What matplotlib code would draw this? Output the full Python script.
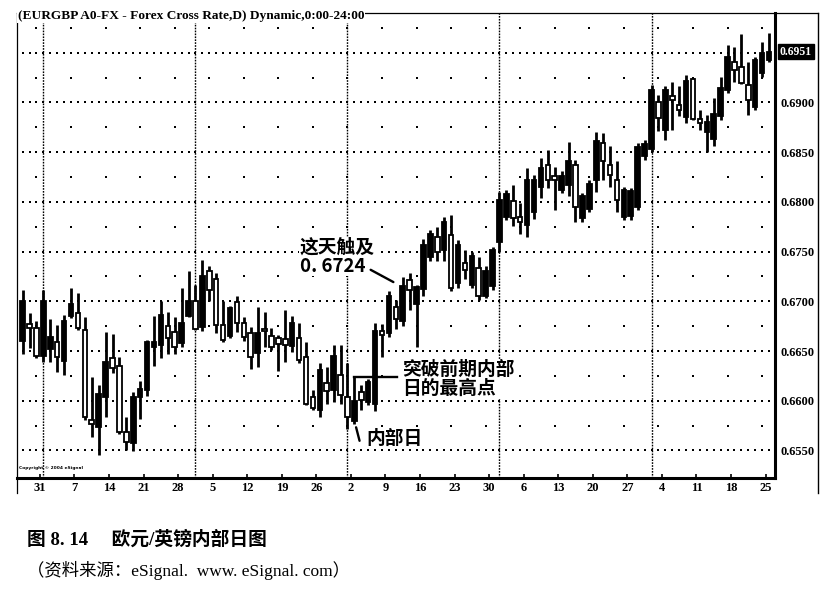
import numpy as np
import pandas as pd
import matplotlib
matplotlib.use("Agg")
import matplotlib.pyplot as plt
from matplotlib.lines import Line2D

# ---------------- data ----------------
dates = pd.bdate_range("2004-05-26", "2004-10-25")

opens = [0.6660, 0.6677, 0.6673, 0.6645, 0.6652, 0.6659, 0.6640, 0.6685, 0.6688, 0.6671,
         0.6581, 0.6574, 0.6604, 0.6643, 0.6635, 0.6569, 0.6557, 0.6604, 0.6611, 0.6654,
         0.6656, 0.6675, 0.6669, 0.6658, 0.6685, 0.6700, 0.6674, 0.6730, 0.6722, 0.6676,
         0.6665, 0.6699, 0.6678, 0.6668, 0.6648, 0.6672, 0.6665, 0.6663, 0.6662, 0.6655,
         0.6663, 0.6644, 0.6604, 0.6591, 0.6618, 0.6611, 0.6626, 0.6604, 0.6580, 0.6609,
         0.6599, 0.6597, 0.6670, 0.6668, 0.6694, 0.6680, 0.6721, 0.6697, 0.6712, 0.6745,
         0.6765, 0.6752, 0.6767, 0.6718, 0.6738, 0.6716, 0.6733, 0.6705, 0.6715, 0.6760,
         0.6785, 0.6801, 0.6785, 0.6777, 0.6790, 0.6815, 0.6837, 0.6826, 0.6812, 0.6817,
         0.6837, 0.6784, 0.6793, 0.6822, 0.6859, 0.6837, 0.6822, 0.6785, 0.6786, 0.6795,
         0.6846, 0.6853, 0.6900, 0.6872, 0.6906, 0.6897, 0.6885, 0.6924, 0.6883, 0.6870,
         0.6863, 0.6886, 0.6912, 0.6941, 0.6936, 0.6917, 0.6895, 0.6930, 0.6943]
highs = [0.6711, 0.6688, 0.6680, 0.6711, 0.6682, 0.6676, 0.6686, 0.6713, 0.6708, 0.6684,
         0.6624, 0.6616, 0.6669, 0.6667, 0.6644, 0.6584, 0.6609, 0.6620, 0.6661, 0.6685,
         0.6700, 0.6689, 0.6684, 0.6713, 0.6730, 0.6716, 0.6742, 0.6735, 0.6728, 0.6700,
         0.6695, 0.6705, 0.6684, 0.6674, 0.6694, 0.6689, 0.6673, 0.6666, 0.6691, 0.6685,
         0.6678, 0.6659, 0.6611, 0.6638, 0.6634, 0.6656, 0.6656, 0.6638, 0.6624, 0.6616,
         0.6622, 0.6678, 0.6677, 0.6710, 0.6701, 0.6724, 0.6728, 0.6716, 0.6763, 0.6772,
         0.6775, 0.6785, 0.6787, 0.6762, 0.6752, 0.6750, 0.6745, 0.6735, 0.6755, 0.6810,
         0.6812, 0.6817, 0.6799, 0.6834, 0.6827, 0.6844, 0.6852, 0.6835, 0.6831, 0.6860,
         0.6842, 0.6809, 0.6822, 0.6870, 0.6869, 0.6856, 0.6841, 0.6815, 0.6814, 0.6859,
         0.6862, 0.6917, 0.6907, 0.6916, 0.6921, 0.6916, 0.6928, 0.6925, 0.6892, 0.6887,
         0.6904, 0.6926, 0.6958, 0.6956, 0.6969, 0.6941, 0.6946, 0.6961, 0.6970]
lows = [0.6647, 0.6653, 0.6643, 0.6639, 0.6639, 0.6629, 0.6626, 0.6683, 0.6671, 0.6581,
        0.6564, 0.6545, 0.6584, 0.6628, 0.6567, 0.6550, 0.6549, 0.6582, 0.6605, 0.6635,
        0.6643, 0.6647, 0.6647, 0.6654, 0.6684, 0.6671, 0.6670, 0.6700, 0.6668, 0.6659,
        0.6663, 0.6669, 0.6660, 0.6632, 0.6634, 0.6654, 0.6651, 0.6630, 0.6639, 0.6649,
        0.6638, 0.6596, 0.6591, 0.6584, 0.6597, 0.6599, 0.6597, 0.6572, 0.6577, 0.6591,
        0.6596, 0.6590, 0.6644, 0.6664, 0.6672, 0.6675, 0.6691, 0.6654, 0.6705, 0.6741,
        0.6741, 0.6741, 0.6710, 0.6713, 0.6722, 0.6713, 0.6701, 0.6703, 0.6711, 0.6750,
        0.6782, 0.6776, 0.6768, 0.6765, 0.6783, 0.6804, 0.6814, 0.6792, 0.6809, 0.6806,
        0.6780, 0.6780, 0.6790, 0.6810, 0.6822, 0.6815, 0.6790, 0.6782, 0.6782, 0.6792,
        0.6842, 0.6850, 0.6871, 0.6862, 0.6872, 0.6886, 0.6879, 0.6882, 0.6872, 0.6850,
        0.6856, 0.6882, 0.6909, 0.6921, 0.6919, 0.6887, 0.6892, 0.6926, 0.6941]
closes = [0.6700, 0.6673, 0.6645, 0.6700, 0.6664, 0.6644, 0.6680, 0.6697, 0.6673, 0.6584,
          0.6577, 0.6607, 0.6639, 0.6633, 0.6569, 0.6559, 0.6604, 0.6612, 0.6659, 0.6659,
          0.6686, 0.6663, 0.6654, 0.6678, 0.6700, 0.6672, 0.6725, 0.6711, 0.6676, 0.6661,
          0.6693, 0.6678, 0.6664, 0.6644, 0.6668, 0.6670, 0.6654, 0.6657, 0.6656, 0.6678,
          0.6641, 0.6597, 0.6593, 0.6631, 0.6610, 0.6645, 0.6606, 0.6584, 0.6600, 0.6601,
          0.6619, 0.6670, 0.6666, 0.6705, 0.6682, 0.6715, 0.6711, 0.6714, 0.6757, 0.6768,
          0.6750, 0.6780, 0.6713, 0.6757, 0.6731, 0.6746, 0.6705, 0.6730, 0.6752, 0.6802,
          0.6808, 0.6784, 0.6780, 0.6822, 0.6822, 0.6834, 0.6822, 0.6822, 0.6826, 0.6841,
          0.6795, 0.6806, 0.6818, 0.6861, 0.6841, 0.6827, 0.6802, 0.6812, 0.6811, 0.6855,
          0.6858, 0.6912, 0.6884, 0.6912, 0.6902, 0.6892, 0.6922, 0.6883, 0.6879, 0.6880,
          0.6888, 0.6914, 0.6946, 0.6933, 0.6920, 0.6902, 0.6943, 0.6950, 0.6951]

price_ticks = [0.6550, 0.6600, 0.6650, 0.6700, 0.6750, 0.6800, 0.6850, 0.6900]
grid_levels = [0.6550, 0.6600, 0.6650, 0.6700, 0.6750, 0.6800, 0.6850, 0.6900, 0.6950]
half_levels = [0.6575, 0.6625, 0.6675, 0.6725, 0.6775, 0.6825, 0.6875, 0.6925, 0.6975]
day_labels = ["31", "7", "14", "21", "28", "5", "12", "19", "26", "2", "9", "16",
              "23", "30", "6", "13", "20", "27", "4", "11", "18", "25"]

header = "(EURGBP A0-FX - Forex Cross Rate,D) Dynamic,0:00-24:00"
note_touch = "这天触及\n0. 6724"
note_break = "突破前期内部\n日的最高点"
note_inside = "内部日"
caption1 = "图 8. 14　 欧元/英镑内部日图"
caption2 = "（资料来源：eSignal.  www. eSignal. com）"

inside_day = 48
touch_day = 55

# ---------------- figure ----------------
W, H = 836, 602
fig = plt.figure(figsize=(W / 100, H / 100), dpi=100)
fig.patch.set_facecolor("white")
L_px, R_px, T_px, B_px = 17, 775, 13, 478
ax = fig.add_axes([L_px / W, 1 - B_px / H, (R_px - L_px) / W, (B_px - T_px) / H])

o = np.array(opens); h = np.array(highs); l = np.array(lows); c = np.array(closes)
x = np.arange(len(dates))

ax.set_xlim(-0.82, 108.87)
ax.set_ylim(0.65223, 0.69899)

# grid: dense dotted lines at 50 pips, sparse dots at weekly positions in between
for lvl in grid_levels:
    ax.plot(x, np.full(len(x), lvl), ls="none", marker="s", ms=1.5, mew=0,
            color="black", zorder=1)
fridays = x[dates.weekday == 4]
for lvl in half_levels:
    ax.plot(fridays, np.full(len(fridays), lvl), ls="none", marker="s", ms=1.6,
            mew=0, color="black", zorder=1)

# month separators
month_end = x[:-1][dates.month[:-1] != dates.month[1:]]
for m in month_end:
    ax.axvline(m, color="black", lw=1.0, ls=(0, (1.2, 0.9)), zorder=1)

# candles
ax.vlines(x, l, h, color="black", lw=2.0, zorder=2)
body_lo = np.minimum(o, c)
body_h = np.maximum(np.abs(c - o), 0.00012)
faces = np.where(c >= o, "black", "white")
ax.bar(x, body_h, bottom=body_lo, width=0.66, color=faces, edgecolor="black",
       linewidth=1.3, zorder=3)

# axes frame
for side in ["left", "top"]:
    ax.spines[side].set_linewidth(0.9)
ax.spines["right"].set_linewidth(2.2)
ax.spines["bottom"].set_linewidth(2.2)

ax.yaxis.tick_right()
ax.set_yticks(price_ticks)
ax.set_yticklabels([f"{v:.4f}" for v in price_ticks], fontfamily="Liberation Serif",
                   fontweight="bold", fontsize=9)
ax.tick_params(axis="y", length=0, pad=4)

mon = x[dates.weekday == 0]
ax.set_xticks(mon - 0.5)
ax.set_xticklabels(day_labels, fontfamily="Liberation Serif", fontweight="bold",
                   fontsize=9)
ax.tick_params(axis="x", direction="in", length=3, width=1.2, pad=3)

# header
ax.text(0.0015, 1.006, header, transform=ax.transAxes, ha="left", va="top",
        fontfamily="Liberation Serif", fontweight="bold", fontsize=9.6,
        bbox=dict(facecolor="white", edgecolor="none", pad=0.6), zorder=10)

# last price box
ax.annotate(f"{c[-1]:.4f}", xy=(1.0, c[-1]), xycoords=("axes fraction", "data"),
            xytext=(3.5, 0), textcoords="offset points", ha="left", va="center",
            fontfamily="Liberation Serif", fontweight="bold", fontsize=8.4,
            color="white", annotation_clip=False,
            bbox=dict(facecolor="black", edgecolor="black", pad=1.2))

# copyright
ax.text(0.002, 0.018, "Copyright © 2004 eSignal", transform=ax.transAxes,
        fontsize=3.2, fontfamily="DejaVu Sans", fontweight="bold", va="bottom")

# outer frame pieces
fig.add_artist(Line2D([818 / W, 818 / W], [1 - 13 / H, 1 - 493 / H], color="black", lw=1.0))
fig.add_artist(Line2D([775 / W, 818 / W], [1 - 13 / H, 1 - 13 / H], color="black", lw=0.9))
fig.add_artist(Line2D([17 / W, 17 / W], [1 - 478 / H, 1 - 493 / H], color="black", lw=0.9))

cjk = ["Noto Sans CJK SC", "DejaVu Sans"]
white_bg = dict(facecolor="white", edgecolor="none", pad=0.5)

# annotation: the day that touched 0.6724
ax.text(40.1, 0.6745, note_touch, fontfamily=cjk, fontweight="bold", fontsize=13.5,
        ha="left", va="center", linespacing=1.0, zorder=6, bbox=white_bg)
ax.annotate("", xy=(touch_day - 1.0, h[touch_day] - 0.0006),
            xytext=(touch_day - 5.0, h[touch_day] + 0.0009),
            arrowprops=dict(arrowstyle="-", color="black", lw=1.7), zorder=6)

# annotation: break above previous inside-day high
ax.plot([inside_day, inside_day + 6.2], [h[inside_day], h[inside_day]],
        color="black", lw=1.7, zorder=6)
ax.text(54.9, 0.6622, note_break, fontfamily=cjk, fontweight="bold", fontsize=13.5,
        ha="left", va="center", linespacing=1.0, zorder=6, bbox=white_bg)

# annotation: inside day
ax.annotate("", xy=(inside_day + 0.85, l[inside_day] - 0.0020),
            xytext=(inside_day + 0.15, l[inside_day] - 0.0001),
            arrowprops=dict(arrowstyle="-", color="black", lw=1.7), zorder=6)
ax.text(49.8, 0.65626, note_inside, fontfamily=cjk, fontweight="bold", fontsize=13.5,
        ha="left", va="center", zorder=6, bbox=white_bg)

# captions
serif_cjk = ["Liberation Serif", "Noto Sans CJK SC"]
fig.text(27 / W, 1 - 540 / H, caption1, fontfamily=serif_cjk, fontweight="bold",
         fontsize=13.5, ha="left", va="center")
fig.text(27 / W, 1 - 570 / H, caption2, fontfamily=serif_cjk, fontsize=12.5,
         ha="left", va="center")

fig.savefig("out.png", dpi=100, facecolor="white")
